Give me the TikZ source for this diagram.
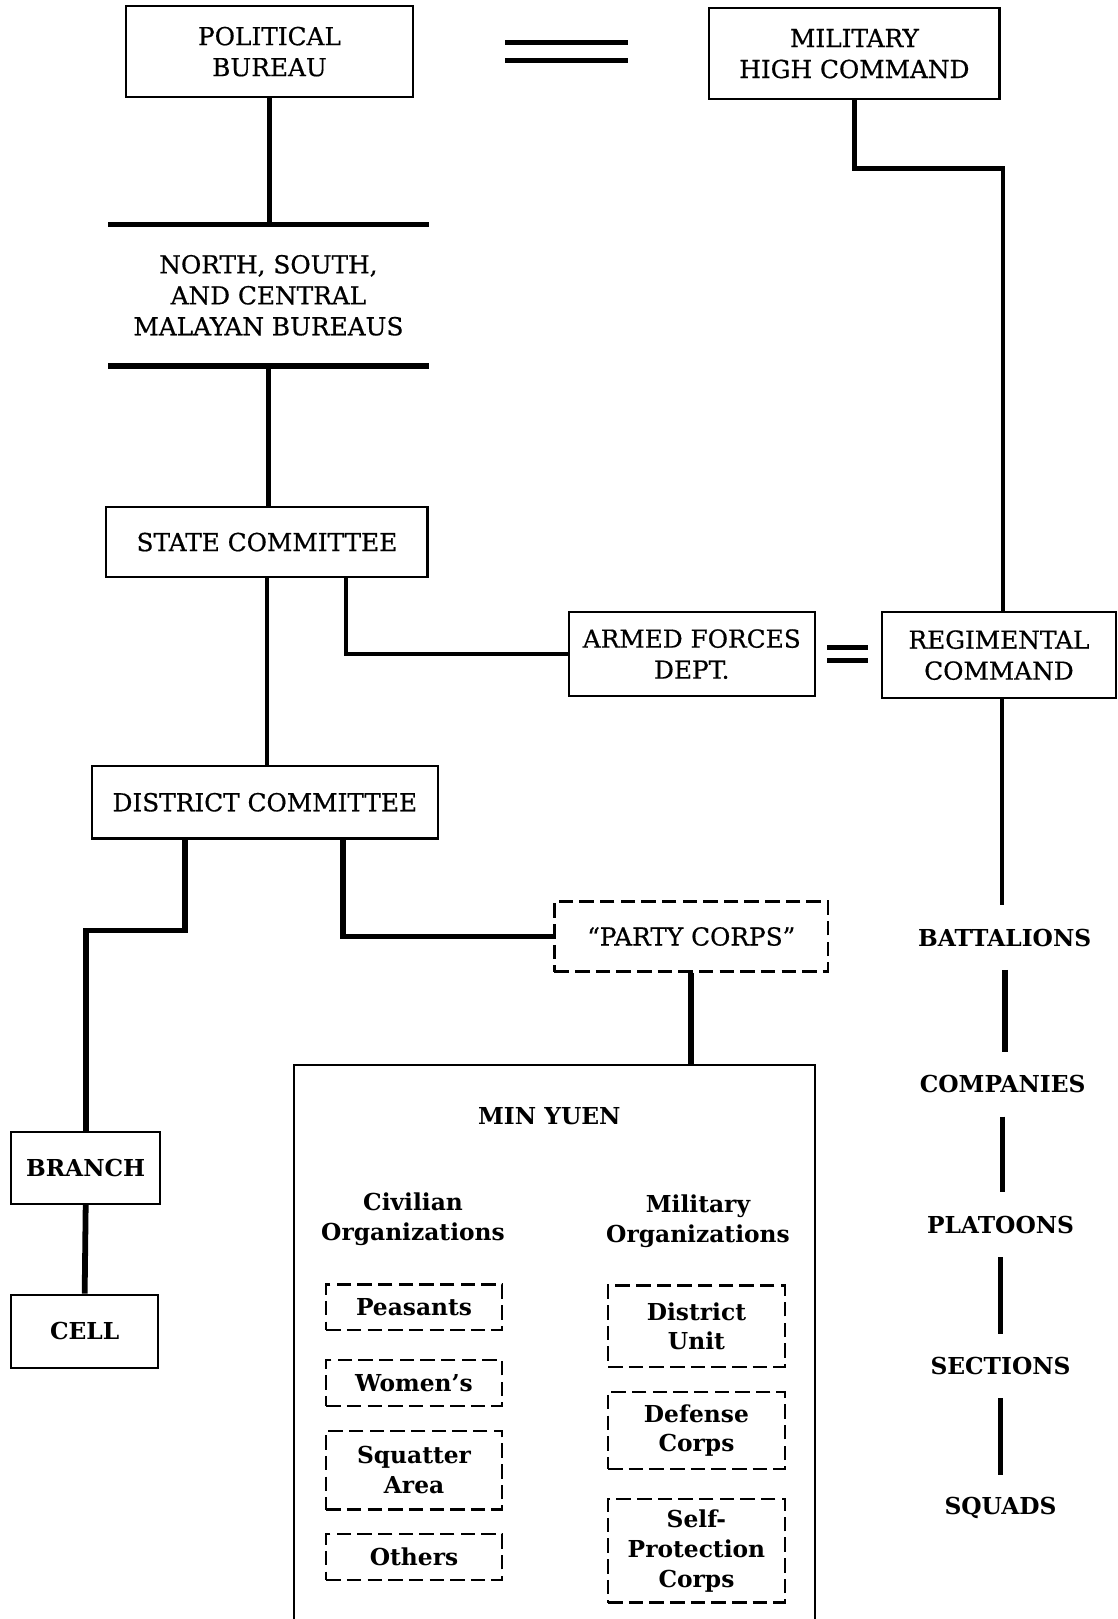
\documentclass[tikz,border=0pt]{standalone}
\usepackage{fontspec}
\setmainfont{DejaVu Serif}
\newfontfamily\mytopfam[FakeBold=0.6]{DejaVu Serif}
\newcommand{\mytopfont}{\mytopfam\fontsize{12}{15}\selectfont}
\newcommand{\mybotfont}{\bfseries\fontsize{11.3}{14.5}\selectfont}
\begin{document}
\begin{tikzpicture}[x=0.5pt,y=-0.5pt,
  box/.style={draw, line width=1.1pt, inner sep=0pt, align=center, font=\mytopfont},
  bbox/.style={draw, line width=1.1pt, inner sep=0pt, align=center, font=\mybotfont},
  dbox/.style={draw, dash pattern=on 7pt off 3pt, line width=1.1pt, inner sep=0pt, align=center, font=\mybotfont},
  plain/.style={inner sep=0pt, align=center, font=\mytopfont},
  lab/.style={inner sep=0pt, align=center, font=\mybotfont, minimum height=31pt},
  conn/.style={line width=2.1pt},
  tconn/.style={line width=2.8pt},
  bar/.style={line width=2.6pt},
  dbl/.style={line width=2.4pt}
]
\useasboundingbox (0,0) rectangle (1082,1568);

% top level
\node[box, minimum width=139pt, minimum height=44pt] (pb) at (261,50) {POLITICAL\\BUREAU};
\node[box, minimum width=140.5pt, minimum height=44pt] (mhc) at (827.5,52) {MILITARY\\HIGH COMMAND};
\node[plain, minimum width=155pt, minimum height=68pt] (nsc) at (260,286) {NORTH, SOUTH,\\AND CENTRAL\\MALAYAN BUREAUS};
\node[box, minimum width=155.5pt, minimum height=34pt] (sc) at (258.5,525) {STATE COMMITTEE};
\node[box, minimum width=119pt, minimum height=40.5pt] (afd) at (670,633.5) {ARMED FORCES\\DEPT.};
\node[box, minimum width=113.5pt, minimum height=41.5pt] (rc) at (967.5,634.5) {REGIMENTAL\\COMMAND};
\node[box, minimum width=167.5pt, minimum height=35pt] (dc) at (256.5,777) {DISTRICT COMMITTEE};
\node[dbox, font=\mytopfont, minimum width=132.5pt, minimum height=34pt] (pc) at (669.5,907) {“PARTY CORPS”};

% left chain
\node[bbox, minimum width=72pt, minimum height=35pt] (br) at (83,1131) {BRANCH};
\node[bbox, minimum width=71pt, minimum height=35.5pt] (cell) at (82,1289.5) {CELL};

% military chain
\node[lab] (bat) at (973,908) {BATTALIONS};
\node[lab] (com) at (971,1050) {COMPANIES};
\node[lab] (pla) at (969,1186) {PLATOONS};
\node[lab] (sec) at (969,1323) {SECTIONS};
\node[lab] (squ) at (969,1460) {SQUADS};

% Min Yuen
\node[inner sep=0pt, minimum width=252pt, minimum height=274pt] (my) at (537,1306) {};
\draw[line width=1.1pt] (my.south west) -- (my.north west) -- (my.north east) -- (my.south east);
\node[font=\mybotfont, inner sep=0pt] (myt) at (532,1081) {MIN YUEN};
\node[font=\mybotfont, align=center, inner sep=0pt] (civ) at (400,1180.5) {Civilian\\Organizations};
\node[font=\mybotfont, align=center, inner sep=0pt] (milo) at (676,1182.5) {Military\\Organizations};

\node[dbox, minimum width=85pt, minimum height=22pt] (pea) at (401,1266) {Peasants};
\node[dbox, minimum width=85pt, minimum height=22.5pt] (wom) at (401,1339.5) {Women’s};
\node[dbox, minimum width=85pt, minimum height=38pt] (squa) at (401,1424) {Squatter\\Area};
\node[dbox, minimum width=85pt, minimum height=22pt] (oth) at (401,1508) {Others};
\node[dbox, minimum width=85.5pt, minimum height=39.5pt] (du) at (674.5,1284.5) {District\\Unit};
\node[dbox, minimum width=85.5pt, minimum height=37.5pt] (dco) at (674.5,1385.5) {Defense\\Corps};
\node[dbox, minimum width=85.5pt, minimum height=50pt] (spc) at (674.5,1502) {Self-\\Protection\\Corps};

% connectors
\draw[dbl] ([xshift=44pt,yshift=4.25pt]pb.east) -- ++(59.5pt,0);
\draw[dbl] ([xshift=44pt,yshift=-4.25pt]pb.east) -- ++(59.5pt,0);
\draw[conn] (pb.south) -- (pb.south |- nsc.north);
\draw[bar] (nsc.north west) -- (nsc.north east);
\draw[bar] (nsc.south west) -- (nsc.south east);
\draw[conn] (nsc.south) -- (nsc.south |- sc.north);
\draw[conn] (mhc.south) -- ++(0,66) -| ([xshift=2pt]rc.north);
\draw[conn] (sc.south) -- (sc.south |- dc.north);
\draw[conn] ([xshift=38.25pt]sc.south) |- (afd.west);
\draw[dbl] ([xshift=5.5pt,yshift=3pt]afd.east) -- ++(20pt,0);
\draw[dbl] ([xshift=5.5pt,yshift=-3pt]afd.east) -- ++(20pt,0);
\draw[conn] ([xshift=1.5pt]rc.south) -- ([xshift=1.5pt]rc.south |- bat.north);
\draw[tconn] (bat.south) -- (bat.south |- com.north);
\draw[tconn] (com.south) -- (com.south |- pla.north);
\draw[tconn] (pla.south) -- (pla.south |- sec.north);
\draw[tconn] (sec.south) -- (sec.south |- squ.north);
\draw[tconn] ([xshift=-38.75pt]dc.south) -- ++(0,88) -| (br.north);
\draw[tconn] ([xshift=37.75pt]dc.south) |- (pc.west);
\draw[tconn] (pc.south) -- (pc.south |- my.north);
\draw[tconn] (br.south) -- (cell.north);
\end{tikzpicture}
\end{document}
